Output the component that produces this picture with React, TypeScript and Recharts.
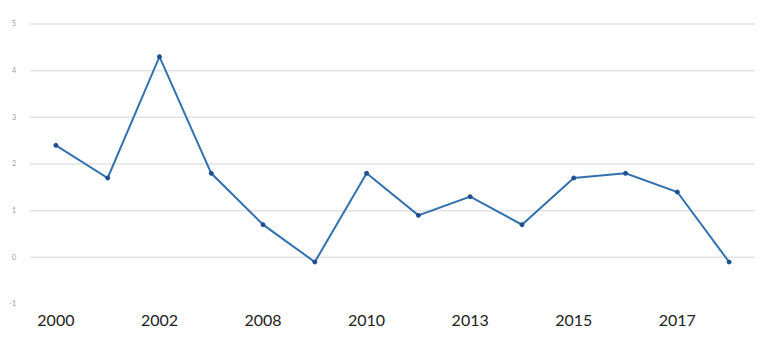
import React from 'react';
import { LineChart, Line, XAxis, YAxis, CartesianGrid } from 'recharts';

const periods = ['p0', 'p1', 'p2', 'p3', 'p4', 'p5', 'p6', 'p7', 'p8', 'p9', 'p10', 'p11', 'p12', 'p13'];
const values = [2.4, 1.7, 4.3, 1.8, 0.7, -0.1, 1.8, 0.9, 1.3, 0.7, 1.7, 1.8, 1.4, -0.1];
// one label under every second point
const yearLabels = ['2000', '', '2002', '', '2008', '', '2010', '', '2013', '', '2015', '', '2017', ''];
const yTicks = [-1, 0, 1, 2, 3, 4, 5];
const gridValues = [0, 1, 2, 3, 4, 5];

const data = periods.map((p, i) => ({ period: p, value: values[i], label: yearLabels[i] }));

export default function App() {
  return (
    <div style={{ width: 760, height: 340, background: '#fff' }}>
      <style>{`body { margin: 0; }`}</style>
      <LineChart
        width={760}
        height={340}
        data={data}
        margin={{ top: 24, right: 5, bottom: 0, left: 0 }}
      >
        <CartesianGrid vertical={false} horizontalValues={gridValues} stroke="#e3e3e3" strokeWidth={1.5} />
        <XAxis
          dataKey="period"
          scale="band"
          interval={0}
          axisLine={false}
          tickLine={false}
          height={36}
          tickFormatter={(_v: string, i: number) => yearLabels[i]}
          tick={{ fontSize: 16, fill: '#222', fontFamily: 'Lato, sans-serif', dy: 3 }}
        />
        <YAxis
          domain={[-1, 5]}
          ticks={yTicks}
          width={30}
          axisLine={false}
          tickLine={false}
          tick={{ fontSize: 7, fill: '#999', fontFamily: 'Lato, sans-serif', dx: -6 }}
        />
        <Line
          type="linear"
          dataKey="value"
          stroke="#3271ad"
          strokeWidth={2}
          dot={{ r: 2, fill: '#1f4f8f', stroke: '#1f4f8f', strokeWidth: 1 }}
          isAnimationActive={false}
        />
      </LineChart>
    </div>
  );
}
